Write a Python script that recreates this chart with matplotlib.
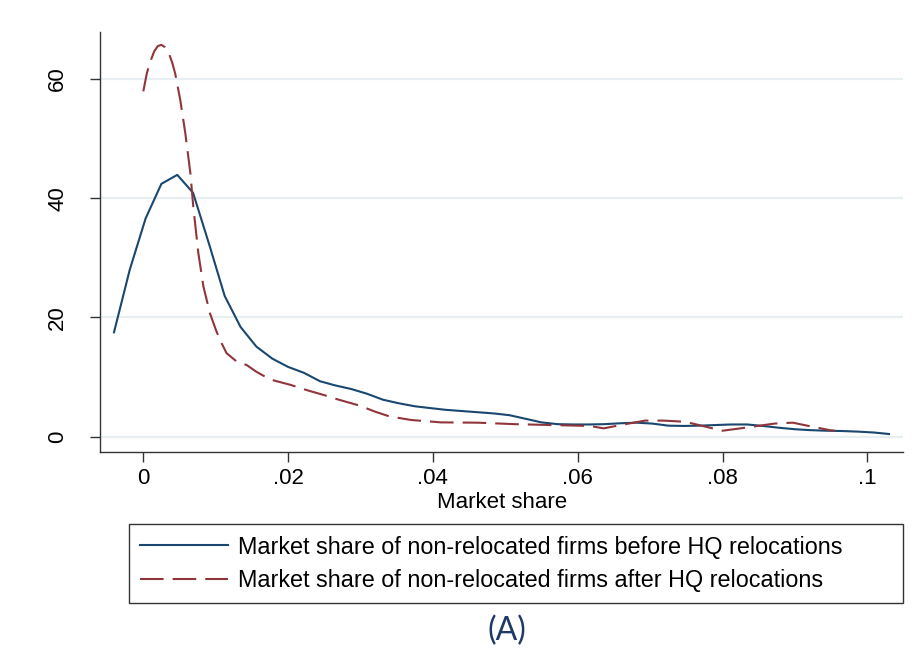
import matplotlib
matplotlib.use("Agg")
import matplotlib.pyplot as plt

# kernel density, before relocations
x_before = [-0.00405, -0.00187, 0.00032, 0.0025, 0.00469, 0.00687, 0.00906, 0.01124,
            0.01343, 0.01562, 0.0178, 0.0200, 0.0222, 0.0244, 0.0265, 0.0287,
            0.0309, 0.0331, 0.0353, 0.0375, 0.0396, 0.0418, 0.0440, 0.0462,
            0.0484, 0.0506, 0.0528, 0.0550, 0.0572, 0.0593, 0.0615, 0.0637,
            0.0659, 0.0681, 0.0703, 0.0725, 0.0747, 0.0768, 0.0790, 0.0812,
            0.0834, 0.0856, 0.0878, 0.0900, 0.0921, 0.0943, 0.0965, 0.0987,
            0.1009, 0.1030]
y_before = [17.5, 28.0, 36.6, 42.4, 43.9, 40.9, 32.4, 23.6,
            18.4, 15.1, 13.1, 11.7, 10.7, 9.3, 8.6, 8.0,
            7.2, 6.2, 5.6, 5.1, 4.8, 4.5, 4.3, 4.1,
            3.9, 3.6, 3.0, 2.4, 2.1, 2.05, 2.05, 2.1,
            2.25, 2.35, 2.2, 1.85, 1.8, 1.85, 1.95, 2.05,
            2.05, 1.8, 1.5, 1.25, 1.1, 1.0, 0.95, 0.85,
            0.7, 0.45]

# kernel density, after relocations
x_after = [0.0000, 0.0005, 0.0010, 0.0015, 0.0020, 0.0025, 0.0030, 0.0035,
           0.0040, 0.0044, 0.0051, 0.0058, 0.0065, 0.0069, 0.0076, 0.0083,
           0.0092, 0.0100, 0.0106, 0.0115, 0.0129, 0.0143, 0.0156, 0.0175,
           0.0203, 0.0226, 0.0249, 0.0270, 0.0299, 0.0320, 0.0340, 0.0370,
           0.0411, 0.0462, 0.0513, 0.0565, 0.0616, 0.0636, 0.0657, 0.0693,
           0.0718, 0.0749, 0.0769, 0.0800, 0.0831, 0.0872, 0.0897, 0.0923,
           0.0948, 0.0955]
y_after = [57.9, 61.0, 63.0, 64.6, 65.5, 65.7, 65.3, 64.4,
           62.7, 60.9, 56.5, 50.9, 44.2, 38.6, 30.8, 25.2,
           20.7, 18.0, 16.2, 14.0, 12.6, 12.0, 10.9, 9.6,
           8.7, 7.8, 7.0, 6.2, 5.2, 4.2, 3.4, 2.8,
           2.4, 2.35, 2.1, 1.95, 1.8, 1.4, 1.9, 2.7,
           2.7, 2.5, 1.9, 1.0, 1.5, 2.2, 2.35, 1.7,
           1.1, 1.0]

x_ticks = [0, 0.02, 0.04, 0.06, 0.08, 0.1]
x_tick_labels = ["0", ".02", ".04", ".06", ".08", ".1"]
y_ticks = [0, 20, 40, 60]

label_before = "Market share of non-relocated firms before HQ relocations"
label_after = "Market share of non-relocated firms after HQ relocations"

plt.rcParams["font.family"] = ["Liberation Sans", "DejaVu Sans"]
plt.rcParams["lines.scale_dashes"] = False

fig = plt.figure(figsize=(9.15, 6.71), dpi=100)
ax = fig.add_axes([0.1093, 0.3268, 0.8779, 0.6259])

ax.plot(x_before, y_before, color="#1a476f", lw=1.5, label=label_before)
ax.plot(x_after, y_after, color="#90353b", lw=1.5, dashes=(17, 6.5), label=label_after)

ax.set_xlim(-0.00598, 0.10497)
ax.set_ylim(-2.52, 67.9)

ax.set_xticks(x_ticks)
ax.set_xticklabels(x_tick_labels)
ax.set_yticks(y_ticks)
ax.set_yticklabels([str(v) for v in y_ticks], rotation=90, va="center")
ax.tick_params(axis="both", labelsize=16, length=7, width=1, color="#333333")
ax.tick_params(axis="x", pad=5)
ax.tick_params(axis="y", pad=16)

ax.grid(axis="y", color="#e8eff2", lw=1.6)
ax.set_axisbelow(True)
for s in ["top", "right"]:
    ax.spines[s].set_visible(False)
for s in ["left", "bottom"]:
    ax.spines[s].set_color("#333333")
    ax.spines[s].set_linewidth(1)

ax.set_xlabel("Market share", fontsize=16, labelpad=2)

leg = fig.legend(loc="center", bbox_to_anchor=(0.141, 0.1033, 0.8459, 0.1133),
                 mode="expand", fontsize=16.8, frameon=True, fancybox=False,
                 edgecolor="black", borderpad=0.49, labelspacing=0.44,
                 handlelength=3.75, handletextpad=0.44, borderaxespad=0)
leg.get_frame().set_linewidth(1)

fig.text(0.5535, 0.0596, "(A)", ha="center", va="center", fontsize=23,
         color="#1f3a68", family=["Lato", "DejaVu Sans"])

fig.savefig("out.png", dpi=100, facecolor="white")
